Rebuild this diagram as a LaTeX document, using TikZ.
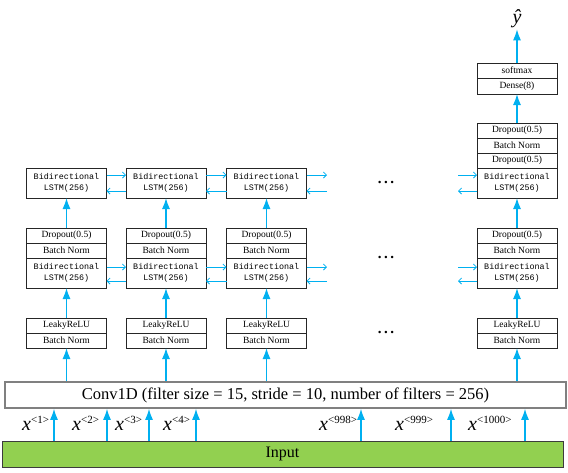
\documentclass[tikz,border=0pt]{standalone}
\usepackage{fontspec}
\setmainfont{Liberation Serif}
\setmonofont{Liberation Mono}
\usetikzlibrary{arrows.meta,positioning}
\definecolor{blau}{RGB}{0,176,240}
\definecolor{gruen}{RGB}{146,208,80}
\definecolor{grau}{RGB}{128,128,128}
\definecolor{dunkelgrau}{RGB}{60,60,60}

\begin{document}
\begin{tikzpicture}[x=1pt, y=-1pt,
    schicht/.style={draw=black!85, line width=0.8pt, minimum width=80pt, inner sep=0pt, outer sep=0pt, font=\fontsize{9.5}{10}\selectfont},
    klein/.style={schicht, minimum height=15pt},
    lstm/.style={schicht, minimum height=30pt, align=center, font=\fontsize{8.4}{11.5}\selectfont\ttfamily},
    hoch/.style={blau, line width=1.3pt, -{Latex[length=11pt,width=8pt]}},
    quer/.style={blau, line width=0.8pt, -{Straight Barb[length=3pt,width=6pt]}},
    punkte/.style={inner sep=0pt, font=\fontsize{15}{15}\selectfont\bfseries},
    xlabel/.style={anchor=base west, inner sep=0pt, font=\fontsize{20}{20}\selectfont}]
        \useasboundingbox (0,0) rectangle (568,472);

        % Eingang und Faltung
        \node[draw=dunkelgrau, line width=0.8pt, fill=gruen, minimum width=561pt, minimum height=26pt, inner sep=0pt, font=\fontsize{16}{16}\selectfont] (input) at (282.5,454) {Input};
        \node[draw=grau, line width=1.6pt, fill=white, minimum width=561pt, minimum height=26pt, inner sep=0pt, font=\fontsize{16.5}{16.5}\selectfont] (conv) at (285.5,395) {Conv1D (filter size = 15, stride = 10, number of filters = 256)};

        % Zeitschritte x^<t>
        \coordinate (tA) at (54,0);
        \coordinate (tB) at (107,0);
        \coordinate (tC) at (149,0);
        \coordinate (tD) at (196,0);
        \coordinate (tE) at (361,0);
        \coordinate (tF) at (451,0);
        \coordinate (tG) at (525,0);
        \draw[hoch] (input.north -| tA) -- (conv.south -| tA);
        \draw[hoch] (input.north -| tB) -- (conv.south -| tB);
        \draw[hoch] (input.north -| tC) -- (conv.south -| tC);
        \draw[hoch] (input.north -| tD) -- (conv.south -| tD);
        \draw[hoch] (input.north -| tE) -- (conv.south -| tE);
        \draw[hoch] (input.north -| tF) -- (conv.south -| tF);
        \draw[hoch] (input.north -| tG) -- (conv.south -| tG);
        \node[xlabel] (xA) at (22,430) {\textit{x}\raisebox{7pt}{\fontsize{11}{11}\selectfont<1>}};
        \node[xlabel] (xB) at (72,430) {\textit{x}\raisebox{7pt}{\fontsize{11}{11}\selectfont<2>}};
        \node[xlabel] (xC) at (115,430) {\textit{x}\raisebox{7pt}{\fontsize{11}{11}\selectfont<3>}};
        \node[xlabel] (xD) at (163,430) {\textit{x}\raisebox{7pt}{\fontsize{11}{11}\selectfont<4>}};
        \node[xlabel] (xE) at (319,430) {\textit{x}\raisebox{7pt}{\fontsize{11}{11}\selectfont<998>}};
        \node[xlabel] (xF) at (395,430) {\textit{x}\raisebox{7pt}{\fontsize{11}{11}\selectfont<999>}};
        \node[xlabel] (xG) at (468,430) {\textit{x}\raisebox{7pt}{\fontsize{11}{11}\selectfont<1000>}};

        % LeakyReLU + Batch Norm
        \node[klein] (bnuA) at (66.5,340.5) {Batch Norm};
        \node[klein, above=0pt of bnuA] (lrA) {LeakyReLU};
        \node[klein] (bnuB) at (166,340.5) {Batch Norm};
        \node[klein, above=0pt of bnuB] (lrB) {LeakyReLU};
        \node[klein] (bnuC) at (266.5,340.5) {Batch Norm};
        \node[klein, above=0pt of bnuC] (lrC) {LeakyReLU};
        \node[klein] (bnuD) at (517,340.5) {Batch Norm};
        \node[klein, above=0pt of bnuD] (lrD) {LeakyReLU};

        % Erste BiLSTM-Schicht
        \node[lstm] (lmA) at (66.5,273) {Bidirectional\\LSTM(256)};
        \node[klein, above=0pt of lmA] (bnmA) {Batch Norm};
        \node[klein, above=0pt of bnmA] (domA) {Dropout(0.5)};
        \node[lstm] (lmB) at (166,273) {Bidirectional\\LSTM(256)};
        \node[klein, above=0pt of lmB] (bnmB) {Batch Norm};
        \node[klein, above=0pt of bnmB] (domB) {Dropout(0.5)};
        \node[lstm] (lmC) at (266.5,273) {Bidirectional\\LSTM(256)};
        \node[klein, above=0pt of lmC] (bnmC) {Batch Norm};
        \node[klein, above=0pt of bnmC] (domC) {Dropout(0.5)};
        \node[lstm] (lmD) at (517,273) {Bidirectional\\LSTM(256)};
        \node[klein, above=0pt of lmD] (bnmD) {Batch Norm};
        \node[klein, above=0pt of bnmD] (domD) {Dropout(0.5)};

        % Zweite BiLSTM-Schicht
        \node[lstm] (ltA) at (66.5,183) {Bidirectional\\LSTM(256)};
        \node[lstm] (ltB) at (166,183) {Bidirectional\\LSTM(256)};
        \node[lstm] (ltC) at (266.5,183) {Bidirectional\\LSTM(256)};
        \node[lstm] (ltD) at (517,183) {Bidirectional\\LSTM(256)};
        \node[klein, above=0pt of ltD] (dooD) {Dropout(0.5)};
        \node[klein, above=0pt of dooD] (bnoD) {Batch Norm};
        \node[klein, above=0pt of bnoD] (dotD) {Dropout(0.5)};

        % Ausgang
        \node[klein, minimum height=16pt] (dense) at (517,86) {Dense(8)};
        \node[klein, above=0pt of dense] (softmax) {softmax};
        \node[inner sep=1pt, font=\fontsize{20}{20}\selectfont] (yhat) at (517,19) {\textit{ŷ}};

        % Punkte
        \node[punkte] (dotsA) at (386,182) {.\kern2.5pt.\kern2.5pt.};
        \node[punkte] (dotsB) at (386,257) {.\kern2.5pt.\kern2.5pt.};
        \node[punkte] (dotsC) at (386,332) {.\kern2.5pt.\kern2.5pt.};

        % senkrechte Pfeile
        \draw[hoch] (conv.north -| bnuA) -- (bnuA.south);
        \draw[hoch] (conv.north -| bnuB) -- (bnuB.south);
        \draw[hoch] (conv.north -| bnuC) -- (bnuC.south);
        \draw[hoch] (conv.north -| bnuD) -- (bnuD.south);
        \draw[hoch] (lrA.north) -- (lmA.south);
        \draw[hoch] (lrB.north) -- (lmB.south);
        \draw[hoch] (lrC.north) -- (lmC.south);
        \draw[hoch] (lrD.north) -- (lmD.south);
        \draw[hoch] (domA.north) -- (ltA.south);
        \draw[hoch] (domB.north) -- (ltB.south);
        \draw[hoch] (domC.north) -- (ltC.south);
        \draw[hoch] (domD.north) -- (ltD.south);
        \draw[hoch] (dotD.north) -- (dense.south);
        \draw[hoch] (softmax.north) -- (yhat.south);

        % waagerechte Pfeile (vorwaerts / rueckwaerts)
        \coordinate (ausM) at (327,273);
        \coordinate (einM) at (458,273);
        \coordinate (ausT) at (327,183);
        \coordinate (einT) at (458,183);
        \draw[quer] ([yshift=6pt]lmA.east) -- ([yshift=6pt]lmB.west);
        \draw[quer] ([yshift=-8pt]lmB.west) -- ([yshift=-8pt]lmA.east);
        \draw[quer] ([yshift=6pt]lmB.east) -- ([yshift=6pt]lmC.west);
        \draw[quer] ([yshift=-8pt]lmC.west) -- ([yshift=-8pt]lmB.east);
        \draw[quer] ([yshift=6pt]lmC.east) -- ([yshift=6pt]ausM);
        \draw[quer] ([yshift=-8pt]ausM) -- ([yshift=-8pt]lmC.east);
        \draw[quer] ([yshift=6pt]einM) -- ([yshift=6pt]lmD.west);
        \draw[quer] ([yshift=-8pt]lmD.west) -- ([yshift=-8pt]einM);
        \draw[quer] ([yshift=8pt]ltA.east) -- ([yshift=8pt]ltB.west);
        \draw[quer] ([yshift=-8pt]ltB.west) -- ([yshift=-8pt]ltA.east);
        \draw[quer] ([yshift=8pt]ltB.east) -- ([yshift=8pt]ltC.west);
        \draw[quer] ([yshift=-8pt]ltC.west) -- ([yshift=-8pt]ltB.east);
        \draw[quer] ([yshift=8pt]ltC.east) -- ([yshift=8pt]ausT);
        \draw[quer] ([yshift=-8pt]ausT) -- ([yshift=-8pt]ltC.east);
        \draw[quer] ([yshift=8pt]einT) -- ([yshift=8pt]ltD.west);
        \draw[quer] ([yshift=-8pt]ltD.west) -- ([yshift=-8pt]einT);
\end{tikzpicture}
\end{document}
